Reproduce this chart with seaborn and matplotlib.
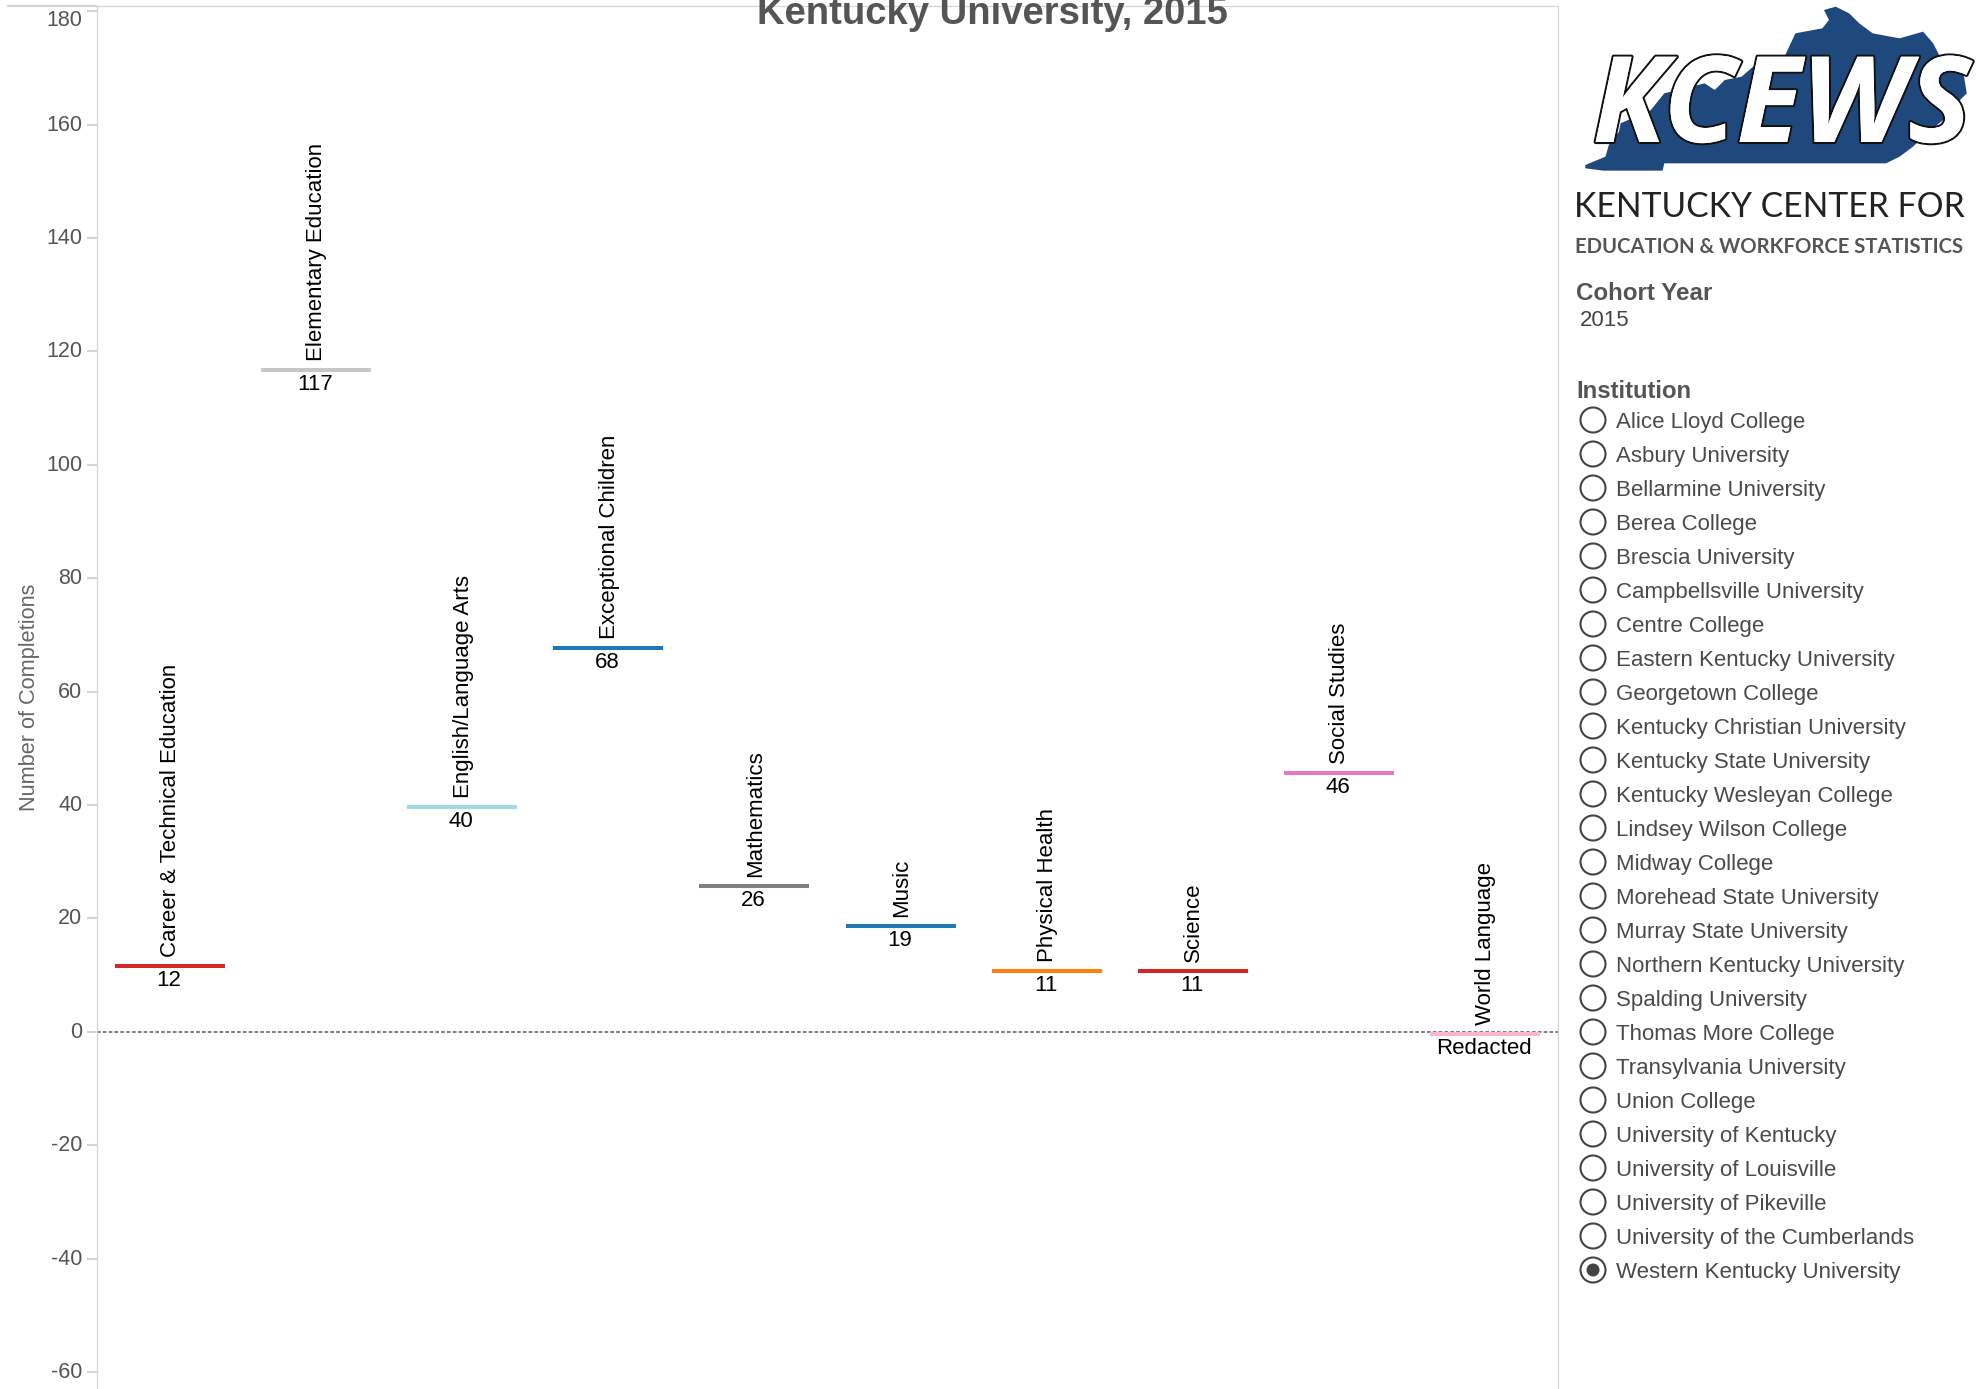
import matplotlib
matplotlib.use("Agg")
import matplotlib.pyplot as plt
from matplotlib.patches import Circle, Polygon
from matplotlib.transforms import Affine2D
import matplotlib.patheffects as pe
import pandas as pd
import seaborn as sns

categories = ["Career & Technical Education", "Elementary Education", "English/Language Arts",
              "Exceptional Children", "Mathematics", "Music", "Physical Health", "Science",
              "Social Studies", "World Language"]
completions = [12, 117, 40, 68, 26, 19, 11, 11, 46, 0]
value_labels = ["12", "117", "40", "68", "26", "19", "11", "11", "46", "Redacted"]
line_colors = ["#d62728", "#c7c7c7", "#9edae5", "#1f77b4", "#7f7f7f",
               "#1f77b4", "#ff7f0e", "#d62728", "#e377c2", "#f7b6d2"]
y_ticks = [-60, -40, -20, 0, 20, 40, 60, 80, 100, 120, 140, 160, 180]
institutions = ["Alice Lloyd College", "Asbury University", "Bellarmine University", "Berea College",
                "Brescia University", "Campbellsville University", "Centre College",
                "Eastern Kentucky University", "Georgetown College", "Kentucky Christian University",
                "Kentucky State University", "Kentucky Wesleyan College", "Lindsey Wilson College",
                "Midway College", "Morehead State University", "Murray State University",
                "Northern Kentucky University", "Spalding University", "Thomas More College",
                "Transylvania University", "Union College", "University of Kentucky",
                "University of Louisville", "University of Pikeville", "University of the Cumberlands",
                "Western Kentucky University"]
selected_institution = "Western Kentucky University"

sns.set_theme(style="white")
plt.rcParams["font.family"] = ["Liberation Sans", "DejaVu Sans"]

W, H = 1987, 1389
fig = plt.figure(figsize=(W / 100, H / 100), dpi=100, facecolor="white")
ax = fig.add_axes([97 / W, 0, (1558 - 97) / W, (H - 6) / H])

df = pd.DataFrame({"Category": categories, "Completions": completions})
ax.axhline(0, color="#666666", lw=1.2, ls=(0, (2.2, 1.3)), zorder=1)
sns.scatterplot(data=df, x="Category", y="Completions", hue="Category",
                palette=line_colors, marker="_", s=6273, linewidth=2.9,
                legend=False, ax=ax, zorder=3)
coll = ax.collections[-1]
coll.set_offset_transform(ax.transData + Affine2D().translate(0, -2))

ax.set_xlim(-0.5, 9.5)
ax.set_ylim(-63, 180.9)
ax.set_xticks([])
ax.set_xlabel("")
ax.set_yticks(y_ticks)
ax.set_yticklabels([str(t) for t in y_ticks])
ax.tick_params(axis="y", left=True, length=7.2, width=1.5, color="#d4d4d4", pad=3.5,
               labelsize=15.5, labelcolor="#555555")
for lab in ax.get_yticklabels():
    if lab.get_text() == "180":
        lab.set_transform(lab.get_transform() + Affine2D().translate(0, -7))
    else:
        lab.set_transform(lab.get_transform() + Affine2D().translate(0, 2))
ax.set_ylabel("Number of Completions", fontsize=15.7, color="#666666")
ax.yaxis.set_label_coords((40 - 97) / 1461, (1389 - 697) / 1383)
for side in ["top", "left", "right"]:
    ax.spines[side].set_color("#d6d6d6")
    ax.spines[side].set_linewidth(0.9)
ax.spines["bottom"].set_visible(False)

for i, (cat, val, lab) in enumerate(zip(categories, completions, value_labels)):
    ax.annotate(cat, xy=(i, val), xytext=(0.6, 5.2), textcoords="offset points", rotation=90,
                ha="center", va="bottom", fontsize=16, color="black", zorder=4)
    ax.annotate(lab, xy=(i, val), xytext=(-0.8, -15.8), textcoords="offset points",
                ha="center", va="baseline", fontsize=16, color="black", zorder=4)

# pixel-space overlay for title, logo and the filter panel
ov = fig.add_axes([0, 0, 1, 1], facecolor="none")
ov.set_xlim(0, W)
ov.set_ylim(H, 0)
ov.axis("off")

ov.plot([7, 97], [6, 6], color="#d4d4d4", lw=1.5, solid_capstyle="butt")
ov.text(992, 24, "Kentucky University, 2015", fontsize=27.5, fontweight="bold", color="#555555",
        ha="center", va="baseline")

outline = [(105, 495), (165, 470), (175, 435), (205, 395), (210, 370), (300, 330), (340, 280),
           (400, 265), (460, 250), (490, 270), (520, 240), (570, 230), (610, 195), (700, 165),
           (730, 100), (810, 85), (830, 60), (815, 30), (850, 20), (890, 40), (920, 70), (960, 100),
           (1040, 115), (1110, 95), (1140, 130), (1160, 170), (1190, 190), (1230, 220), (1240, 280),
           (1200, 320), (1170, 360), (1120, 400), (1080, 440), (1040, 470), (1000, 490), (340, 490),
           (335, 512), (160, 512), (105, 505)]
ov.add_patch(Polygon([(1550 + x / 2.975, y / 3) for x, y in outline], closed=True,
                     facecolor="#1f497d", edgecolor="none"))
ov.text(1782, 142, "KCEWS", fontsize=86, family="Open Sans", style="italic", fontweight="bold",
        color="white", ha="center", va="baseline",
        path_effects=[pe.withStroke(linewidth=3, foreground="#111111"), pe.Normal()])
ov.text(1574, 217, "KENTUCKY CENTER FOR", fontsize=24.2, family="Lato", color="#222222",
        ha="left", va="baseline")
ov.text(1575, 253, "EDUCATION & WORKFORCE STATISTICS", fontsize=14.6, family="Lato",
        fontweight="bold", color="#555555", ha="left", va="baseline")

ov.text(1576, 300, "Cohort Year", fontsize=17.4, fontweight="bold", color="#555555", va="baseline")
ov.text(1580, 326, "2015", fontsize=16, color="#444444", va="baseline")
ov.text(1576, 398, "Institution", fontsize=17.2, fontweight="bold", color="#555555", va="baseline")

for i, name in enumerate(institutions):
    y = 420 + 34 * i
    ov.add_patch(Circle((1593, y), 12.5, facecolor="white", edgecolor="#444444", lw=1.5))
    if name == selected_institution:
        ov.add_patch(Circle((1593, y), 6.5, facecolor="#444444", edgecolor="none"))
    ov.text(1615.5, y + 8, name, fontsize=16, color="#4a4a4a", va="baseline")

fig.savefig("out.png", dpi=100)
